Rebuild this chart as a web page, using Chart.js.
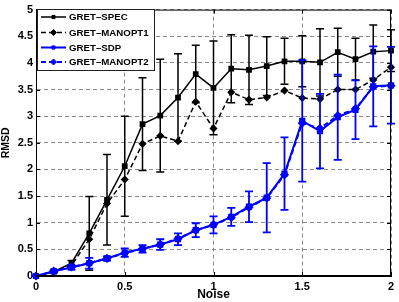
<!DOCTYPE html>
<html>
<head>
<meta charset="utf-8">
<script src="https://cdn.jsdelivr.net/npm/chart.js@4/dist/chart.umd.min.js"></script>
<style>
  html, body { margin: 0; padding: 0; background: #fff; }
  #wrap { width: 399px; height: 302px; }
</style>
</head>
<body>
<div id="wrap"><canvas id="rmsdChart" width="399" height="302"></canvas></div>
<script>
  // data
  const noise = [0, 0.1, 0.2, 0.3, 0.4, 0.5, 0.6, 0.7, 0.8, 0.9, 1.0, 1.1, 1.2, 1.3, 1.4, 1.5, 1.6, 1.7, 1.8, 1.9, 2.0];
  const specMean = [0, 0.08, 0.24, 0.80, 1.43, 2.06, 2.85, 3.01, 3.35, 3.79, 3.53, 3.89, 3.87, 3.94, 4.03, 4.03, 4.01, 4.20, 4.07, 4.21, 4.23];
  const specErr = [0, 0.02, 0.05, 0.69, 0.85, 0.94, 0.87, 1.06, 0.82, 0.54, 0.88, 0.64, 0.65, 0.55, 0.43, 0.48, 0.63, 0.45, 0.39, 0.50, 0.39];
  const manopt1Mean = [0, 0.08, 0.20, 0.69, 1.36, 1.81, 2.48, 2.63, 2.53, 3.27, 2.77, 3.45, 3.31, 3.35, 3.48, 3.34, 3.32, 3.50, 3.50, 3.68, 3.92];
  const sdpMean = [0, 0.09, 0.16, 0.24, 0.33, 0.44, 0.51, 0.59, 0.69, 0.86, 0.96, 1.11, 1.30, 1.47, 1.92, 2.91, 2.72, 2.98, 3.12, 3.56, 3.58];
  const sdpErr = [0, 0.02, 0.04, 0.10, 0.04, 0.08, 0.07, 0.10, 0.11, 0.13, 0.16, 0.17, 0.29, 0.65, 0.68, 1.14, 0.70, 0.80, 0.55, 0.75, 0.72];
  const manopt2Mean = [0, 0.09, 0.17, 0.24, 0.33, 0.43, 0.51, 0.59, 0.70, 0.86, 0.96, 1.10, 1.29, 1.46, 1.90, 2.87, 2.77, 3.01, 3.14, 3.55, 3.57];
  const xTicks = [0, 0.5, 1, 1.5, 2];
  const yTicks = [0, 0.5, 1, 1.5, 2, 2.5, 3, 3.5, 4, 4.5, 5];

  const toPoints = arr => arr.map((v, i) => ({ x: noise[i], y: v }));
  const FONT = 'Liberation Sans, Arial, sans-serif';

  // vertical error bars with caps
  const errorBars = {
    id: 'errorBars',
    beforeDatasetDraw(chart, args) {
      const ds = chart.data.datasets[args.index];
      if (!ds.errors) return;
      const { ctx, scales: { x, y } } = chart;
      ctx.save();
      ctx.strokeStyle = ds.borderColor;
      ctx.lineWidth = ds.errorWidth;
      ds.data.forEach((p, i) => {
        const e = ds.errors[i];
        if (!e) return;
        const px = x.getPixelForValue(p.x);
        const top = y.getPixelForValue(p.y + e);
        const bot = y.getPixelForValue(p.y - e);
        ctx.beginPath();
        ctx.moveTo(px, top); ctx.lineTo(px, bot);
        ctx.moveTo(px - 4, top); ctx.lineTo(px + 4, top);
        ctx.moveTo(px - 4, bot); ctx.lineTo(px + 4, bot);
        ctx.stroke();
      });
      ctx.restore();
    }
  };

  // full box with small inner ticks, matlab style
  const axesBox = {
    id: 'axesBox',
    afterDatasetsDraw(chart) {
      const { ctx, chartArea: a, scales: { x, y } } = chart;
      ctx.save();
      ctx.strokeStyle = '#000';
      ctx.lineWidth = 1;
      ctx.setLineDash([]);
      ctx.strokeRect(a.left + 0.5, a.top + 0.5, a.right - a.left - 1, a.bottom - a.top - 1);
      ctx.beginPath();
      xTicks.forEach(v => {
        const px = Math.round(x.getPixelForValue(v)) + 0.5;
        ctx.moveTo(px, a.bottom); ctx.lineTo(px, a.bottom - 4);
        ctx.moveTo(px, a.top); ctx.lineTo(px, a.top + 4);
      });
      yTicks.forEach(v => {
        const py = Math.round(y.getPixelForValue(v)) + 0.5;
        ctx.moveTo(a.left, py); ctx.lineTo(a.left + 4, py);
        ctx.moveTo(a.right, py); ctx.lineTo(a.right - 4, py);
      });
      ctx.stroke();
      ctx.restore();
    }
  };

  // legend box: line sample + marker + label
  const boxLegend = {
    id: 'boxLegend',
    afterDraw(chart) {
      const { ctx } = chart;
      const rows = [17, 32.5, 47.5, 62];
      ctx.save();
      ctx.fillStyle = '#fff';
      ctx.fillRect(37.5, 9.5, 117, 61);
      ctx.strokeStyle = '#222';
      ctx.lineWidth = 1;
      ctx.strokeRect(37.5, 9.5, 117, 61);
      chart.data.datasets.forEach((ds, i) => {
        const cy = rows[i];
        ctx.strokeStyle = ds.borderColor;
        ctx.fillStyle = ds.backgroundColor;
        ctx.lineWidth = ds.borderWidth;
        ctx.setLineDash(ds.borderDash || []);
        ctx.beginPath();
        ctx.moveTo(41, cy); ctx.lineTo(66, cy);
        ctx.stroke();
        ctx.setLineDash([]);
        ctx.lineWidth = 1;
        Chart.helpers.drawPoint(ctx, {
          pointStyle: ds.pointStyle, radius: ds.pointStyle === 'rect' ? 2.2 : 3, rotation: 0, borderWidth: 1
        }, 53.5, cy);
        ctx.fillStyle = '#000';
        ctx.font = 'bold 9.7px ' + FONT;
        ctx.textBaseline = 'middle';
        ctx.textAlign = 'left';
        ctx.fillText(ds.label, 69, cy + 0.5);
      });
      ctx.restore();
    }
  };

  const ctx = document.getElementById('rmsdChart').getContext('2d');
  new Chart(ctx, {
    type: 'line',
    data: {
      datasets: [{
        label: 'GRET\u2013SPEC',
        data: toPoints(specMean),
        errors: specErr,
        errorWidth: 1.5,
        borderColor: '#000',
        backgroundColor: '#000',
        borderWidth: 1.5,
        pointStyle: 'rect',
        pointRadius: 3,
        order: 4
      }, {
        label: 'GRET\u2013MANOPT1',
        data: toPoints(manopt1Mean),
        borderColor: '#000',
        backgroundColor: '#000',
        borderWidth: 1.5,
        borderDash: [5, 3],
        pointStyle: 'rectRot',
        pointRadius: 3,
        order: 3
      }, {
        label: 'GRET\u2013SDP',
        data: toPoints(sdpMean),
        errors: sdpErr,
        errorWidth: 1.8,
        borderColor: '#0000ff',
        backgroundColor: '#0000ff',
        borderWidth: 2,
        pointStyle: 'rect',
        pointRadius: 3,
        order: 2
      }, {
        label: 'GRET\u2013MANOPT2',
        data: toPoints(manopt2Mean),
        borderColor: '#0000ff',
        backgroundColor: '#0000ff',
        borderWidth: 2,
        borderDash: [5, 3],
        pointStyle: 'rectRot',
        pointRadius: 3.2,
        order: 1
      }]
    },
    options: {
      responsive: false,
      animation: false,
      clip: false,
      layout: { padding: { top: 9, right: 8, left: 0, bottom: 0 } },
      plugins: { legend: { display: false }, tooltip: { enabled: false } },
      elements: { line: { tension: 0 }, point: { borderWidth: 1 } },
      scales: {
        x: {
          type: 'linear',
          min: 0,
          max: 2,
          afterBuildTicks: s => { s.ticks = xTicks.map(v => ({ value: v })); },
          afterFit: s => { s.height = 26; },
          grid: { color: '#8a8a8a', lineWidth: 1, drawTicks: false },
          border: { display: true, color: '#000', width: 1, dash: [4, 3] },
          ticks: {
            padding: 4,
            color: '#000',
            font: { family: FONT, size: 11, weight: 'bold' },
            callback: v => String(v)
          },
          title: {
            display: true,
            text: 'Noise',
            color: '#000',
            font: { family: FONT, size: 12, weight: 'bold' },
            padding: { top: 0, bottom: 0 }
          }
        },
        y: {
          type: 'linear',
          min: 0,
          max: 5,
          afterBuildTicks: s => { s.ticks = yTicks.map(v => ({ value: v })); },
          afterFit: s => { s.width = 36; },
          grid: { color: '#8a8a8a', lineWidth: 1, drawTicks: false },
          border: { display: true, color: '#000', width: 1, dash: [4, 3] },
          ticks: {
            padding: 3,
            color: '#000',
            font: { family: FONT, size: 11, weight: 'bold' },
            callback: v => String(v)
          },
          title: {
            display: true,
            text: 'RMSD',
            color: '#000',
            font: { family: FONT, size: 10.5, weight: 'bold' },
            padding: { top: 0, bottom: 0 }
          }
        }
      }
    },
    plugins: [errorBars, axesBox, boxLegend]
  });
</script>
</body>
</html>
